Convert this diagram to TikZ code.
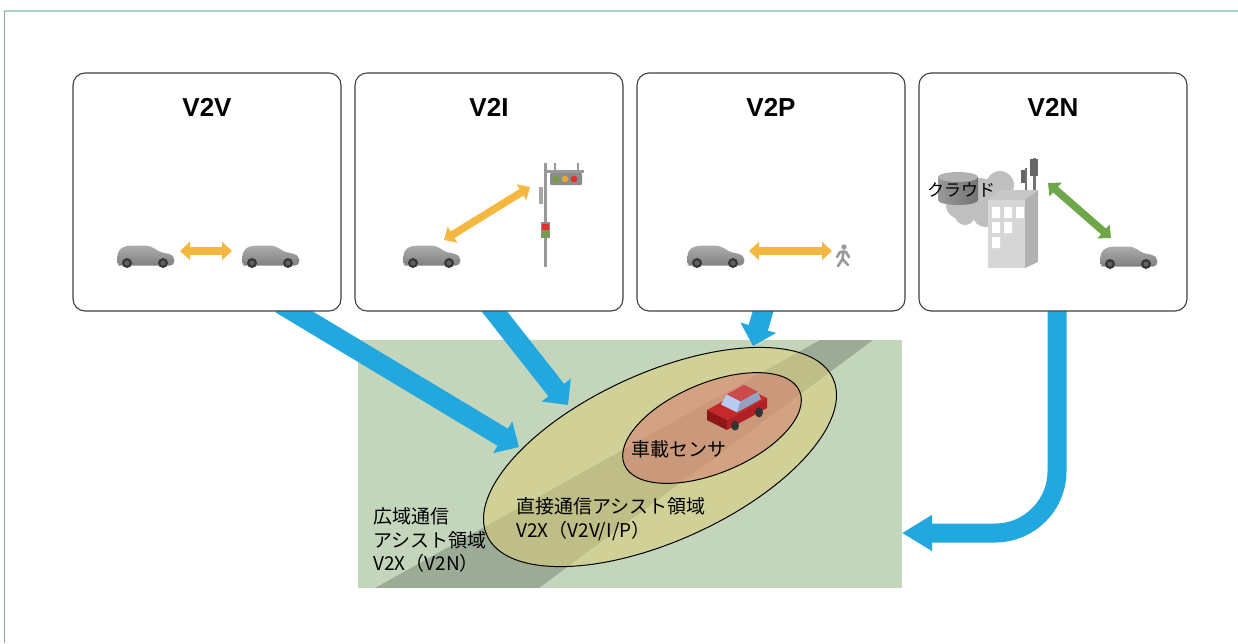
\documentclass[tikz,border=0pt]{standalone}
\usepackage{fontspec}
\setmainfont{Liberation Sans}
\newfontfamily\jp{Noto Sans CJK JP}
\usetikzlibrary{arrows.meta,calc}
\pgfdeclarelayer{back}
\pgfdeclarelayer{mid}
\pgfsetlayers{back,mid,main}

\definecolor{boxline}{HTML}{404040}
\definecolor{field}{HTML}{C3D6BC}
\definecolor{zoneout}{HTML}{DDCE7A}
\definecolor{zonein}{HTML}{D47C72}
\definecolor{netblue}{HTML}{22A8DF}
\definecolor{linkorange}{HTML}{F4B840}
\definecolor{linkgreen}{HTML}{6EA64A}
\definecolor{framegreen}{HTML}{A9D2C9}
\definecolor{lampgreen}{HTML}{76A040}
\definecolor{lampyellow}{HTML}{E8A92A}
\definecolor{lampred}{HTML}{E0302A}
\definecolor{cartop}{HTML}{C42A2A}
\definecolor{carfront}{HTML}{8E1518}
\definecolor{carside}{HTML}{B02024}
\definecolor{carglass}{HTML}{B8CCF2}

\tikzset{
  card/.style={draw=boxline, fill=white, line width=1.1pt, rounded corners=12pt,
    minimum width=268pt, minimum height=238pt},
  head/.style={font=\fontsize{26}{30}\selectfont\bfseries},
  zone/.style={font=\jp\fontsize{19}{23.5}\selectfont, align=left, inner sep=0pt},
  link/.style={line width=7.5pt, {Triangle[length=10pt,width=18pt]}-{Triangle[length=10pt,width=18pt]}},
  feed/.style={netblue, line width=20pt, -{Triangle[length=19pt,width=36pt]}},
  carpic/.pic={
    \shade[top color=black!32, bottom color=black!50, rounded corners=2pt]
      (1,20) -- (0,12) -- (2,5) -- (7,1.5) -- (14,0.5) -- (30,0.5) -- (35,2)
      -- (43,7) -- (53,9) -- (57,12) -- (57.5,18) -- (55,20.5) -- (2,20.5) -- cycle;
    \foreach \wx in {10,46} {
      \fill[black!78] (\wx,18) circle (5pt);
      \fill[black!62] (\wx,18) circle (2.5pt);
    }
  }
}

\begin{document}
\begin{tikzpicture}[x=1pt, y=-1pt]
  \useasboundingbox (0,0) rectangle (1238,643);

  % frame lines
  \draw[framegreen, line width=2pt] (4,11) -- (1238,11);
  \draw[framegreen!80!black, line width=0.7pt] (4,11) -- (4,643);

  % the four cards
  \node[card] (v2v) at (207,192) {};
  \node[card] (v2i) at (489,192) {};
  \node[card] (v2p) at (771,192) {};
  \node[card] (v2n) at (1053,192) {};
  \node[head] (h1) at ([yshift=-35pt]v2v.north) {V2V};
  \node[head] (h2) at ([yshift=-35pt]v2i.north) {V2I};
  \node[head] (h3) at ([yshift=-35pt]v2p.north) {V2P};
  \node[head] (h4) at ([yshift=-35pt]v2n.north) {V2N};

  % V2V
  \pic at (117,245) {carpic};
  \pic at (242,245) {carpic};
  \coordinate (a1) at (180,251);
  \coordinate (a2) at (232,251);
  \draw[link, linkorange] (a1) -- (a2);

  % V2I: car and traffic light
  \pic at (403,245) {carpic};
  \fill[black!40] (543.5,163) rectangle (546.5,267);
  \fill[black!40] (545,170) rectangle (584,172.5);
  \fill[black!40] (554,163) rectangle (556,171);
  \fill[black!40] (577,163) rectangle (579,171);
  \fill[black!45, rounded corners=1pt] (550,173) rectangle (582,185);
  \fill[lampgreen] (556,179) circle (3.3pt);
  \fill[lampyellow] (565,179) circle (3.3pt);
  \fill[lampred] (574,179) circle (3.3pt);
  \fill[black!35] (538.5,187) rectangle (543,204);
  \fill[black!45] (540.5,222) rectangle (550,238);
  \fill[lampred] (542,224) rectangle (548.5,229.5);
  \fill[lampgreen] (542,231) rectangle (548.5,236.5);
  \coordinate (b1) at (444,240);
  \coordinate (b2) at (530,187);
  \draw[link, linkorange] (b1) -- (b2);

  % V2P: car and pedestrian
  \pic at (687,245) {carpic};
  \fill[black!40] (844,247) circle (2.7pt);
  \draw[black!40, line width=2.6pt, line cap=round, line join=round]
    (843.5,251) -- (842.5,259) -- (838,266)
    (842.5,259) -- (848,265)
    (837,257) -- (840,252) -- (846,252) -- (849,257);
  \coordinate (c1) at (749,251);
  \coordinate (c2) at (832,251);
  \draw[link, linkorange] (c1) -- (c2);

  % V2N: cloud, server, building with antennas
  \fill[black!25] (960,205) circle (14pt) (980,195) circle (17pt)
    (1000,185) circle (14pt) (1005,205) circle (14pt)
    (985,215) circle (12pt) (965,215) circle (10pt);
  \shade[left color=black!40, right color=black!55]
    (938,177) -- (938,200) arc[start angle=180, end angle=360, x radius=20pt, y radius=5pt]
    -- (978,177) -- cycle;
  \fill[black!30] (958,177) ellipse [x radius=20pt, y radius=5pt];
  \fill[black!55] (1024.5,168) rectangle (1027,200);
  \fill[black!60] (1021,170) rectangle (1025,183);
  \fill[black!55] (1033,158) rectangle (1035.5,191);
  \fill[black!60] (1030,159) rectangle (1038,176);
  \fill[black!22] (988,200) -- (1001,190) -- (1038,190) -- (1025,200) -- cycle;
  \fill[black!16] (988,200) rectangle (1025,268);
  \fill[black!30] (1025,200) -- (1038,190) -- (1038,262) -- (1025,268) -- cycle;
  \fill[white] (992,207) rectangle (1000,218) (1004,207) rectangle (1012,218)
    (1016,207) rectangle (1024,218)
    (992,222) rectangle (1000,233) (1004,222) rectangle (1012,233)
    (992,237) rectangle (1000,248);
  \node[font=\jp\fontsize{17}{20}\selectfont, anchor=west, inner sep=0pt] (cl) at (927,190) {クラウド};
  \pic at (1100,246) {carpic};
  \coordinate (d1) at (1048,183);
  \coordinate (d2) at (1111,238);
  \draw[link, linkgreen] (d1) -- (d2);

  % assist areas
  \begin{pgfonlayer}{back}
    \fill[field] (358,340) rectangle (902,588);
    \fill[black, opacity=0.2] (375,588) -- (820,340) -- (873,340) -- (539,588) -- cycle;
    \begin{scope}[shift={(660,457)}, rotate=24.4]
      \fill[zoneout, opacity=0.55] (0,0) ellipse [x radius=190pt, y radius=84pt];
    \end{scope}
    \begin{scope}[shift={(712,428)}, rotate=22.7]
      \fill[zonein, opacity=0.55] (0,0) ellipse [x radius=95pt, y radius=45pt];
    \end{scope}
    \draw[line width=1pt, shift={(660,457)}, rotate=24.4] (0,0) ellipse [x radius=190pt, y radius=84pt];
    \draw[line width=1pt, shift={(712,428)}, rotate=22.7] (0,0) ellipse [x radius=95pt, y radius=45pt];
    % red car
    \fill[cartop] (707,410) -- (727,420) -- (767,398) -- (747,388) -- cycle;
    \fill[carfront] (707,420) -- (727,430) -- (727,420) -- (707,410) -- cycle;
    \fill[carside] (727,430) -- (767,408) -- (767,398) -- (727,420) -- cycle;
    \fill[carglass] (721,404.4) -- (737,412.4) -- (740.8,401.3) -- (726.8,394.3) -- cycle;
    \fill[cartop!85!white] (726.8,394.3) -- (740.8,401.3) -- (758,391.8) -- (744,384.8) -- cycle;
    \fill[carglass!80!black] (737,412.4) -- (761,399.2) -- (758,391.8) -- (740.8,401.3) -- cycle;
    \fill[black!80] (735,425.6) ellipse [x radius=4pt, y radius=5pt];
    \fill[black!80] (759,412.4) ellipse [x radius=4pt, y radius=5pt];
  \end{pgfonlayer}
  \node[zone, anchor=center] (sn) at (679,449) {車載センサ};
  \node[zone, anchor=west] (za) at (516,519) {直接通信アシスト領域\\V2X（V2V/I/P）};
  \node[zone, anchor=west] (zb) at (373,540) {広域通信\\アシスト領域\\V2X（V2N）};

  % arrows into the areas
  \coordinate (ta) at (519,447);
  \coordinate (tb) at (568,405);
  \coordinate (tc) at (753,346);
  \coordinate (td) at (902,533);
  \coordinate (sa) at ([xshift=-48pt]v2v.south east);
  \coordinate (sb) at ([xshift=140pt]v2i.south west);
  \coordinate (sc) at ([xshift=-8pt]v2p.south);
  \coordinate (sd) at ([xshift=4pt]v2n.south);
  \begin{pgfonlayer}{mid}
    \draw[feed] ($(sa)!-15pt!(ta)$) -- (ta);
    \draw[feed] ($(sb)!-15pt!(tb)$) -- (tb);
    \draw[feed] ($(sc)!-15pt!(tc)$) -- (tc);
    \draw[feed, line width=19pt, -{Triangle[length=30pt,width=34pt]}, rounded corners=62pt]
      ($(sd)+(0,-15)$) -- (sd |- td) -- (td);
  \end{pgfonlayer}
\end{tikzpicture}
\end{document}
